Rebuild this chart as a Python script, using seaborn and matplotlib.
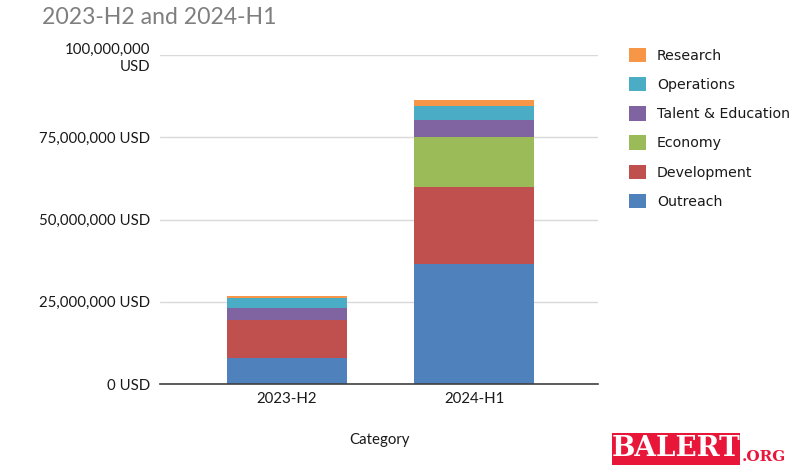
import matplotlib
matplotlib.use("Agg")
import matplotlib.pyplot as plt
import seaborn as sns
import pandas as pd
import numpy as np
from matplotlib.patches import Patch, FancyBboxPatch

categories = ["2023-H2", "2024-H1"]
series_names = ["Outreach", "Development", "Economy", "Talent & Education", "Operations", "Research"]
outreach = [7.8e6, 36.5e6]
development = [11.6e6, 23.3e6]
economy = [0.0, 15.4e6]
talent = [3.6e6, 5.1e6]
operations = [3.0e6, 4.3e6]
research = [0.6e6, 1.8e6]
colors = ["#4F81BD", "#C0504D", "#9BBB59", "#8064A2", "#4BACC6", "#F79646"]
yticks = [0, 25e6, 50e6, 75e6, 100e6]
ytick_labels = ["0 USD", "25,000,000 USD", "50,000,000 USD", "75,000,000 USD", "100,000,000\nUSD"]

series_values = [outreach, development, economy, talent, operations, research]

sns.set_theme(style="white")
plt.rcParams['font.family'] = ['Lato', 'DejaVu Sans']

fig = plt.figure(figsize=(8.11, 4.71), dpi=100)
ax = fig.add_axes([160/811, 87/471, 438/811, 329/471])

bottom = np.zeros(len(categories))
for name, vals, col in zip(series_names, series_values, colors):
    df = pd.DataFrame({"Category": categories, "Value": vals})
    sns.barplot(data=df, x="Category", y="Value", order=categories, color=col,
                bottom=bottom, width=0.64, ax=ax, linewidth=0, saturation=1)
    bottom = bottom + np.array(vals)

ax.set_xlim(-0.675, 1.66)
ax.set_ylim(0, 100e6)
ax.set_yticks(yticks)
ax.set_yticklabels(ytick_labels, fontsize=10.8, color="#1a1a1a", linespacing=1.35)
for lbl in ax.get_xticklabels():
    lbl.set_fontsize(10.8)
    lbl.set_color("#1a1a1a")
ax.tick_params(axis="both", length=0)
ax.tick_params(axis="y", pad=7)
ax.tick_params(axis="x", pad=6)
ax.grid(axis="y", color="#d9d9d9", linewidth=1)
ax.set_axisbelow(True)
for s in ["top", "right", "left"]:
    ax.spines[s].set_visible(False)
ax.spines["bottom"].set_color("#404040")
ax.spines["bottom"].set_linewidth(1.2)
ax.set_xlabel("Category", fontsize=10.8, color="#1a1a1a", labelpad=19)
ax.set_ylabel("")

fig.text(42/811, 1 - 18/471, "2023-H2 and 2024-H1", fontsize=16.6, color="#7f7f7f",
         ha="left", va="center")

handles = [Patch(facecolor=c, edgecolor="none") for c in colors][::-1]
labels = series_names[::-1]
leg = fig.legend(handles, labels, loc="upper left", bbox_to_anchor=(616/811, 1 - 35/471),
                 frameon=False, handlelength=1.2, handleheight=1.2, handletextpad=0.8,
                 labelspacing=1.0, prop={"family": "DejaVu Sans", "size": 10.2})
for t in leg.get_texts():
    t.set_color("#1a1a1a")

# watermark
fig.patches.append(FancyBboxPatch((612/811, 6/471), 128/811, 32/471, boxstyle="square,pad=0",
                                  transform=fig.transFigure, facecolor="#e8173a", edgecolor="none"))
fig.text(676/811, 22/471, "BALERT", fontsize=20, fontweight="bold", color="white",
         ha="center", va="center", family="DejaVu Serif")
fig.text(742/811, 14/471, ".ORG", fontsize=11, fontweight="bold", color="#e8173a",
         ha="left", va="center", family="DejaVu Serif")

fig.savefig("out.png", dpi=100)
